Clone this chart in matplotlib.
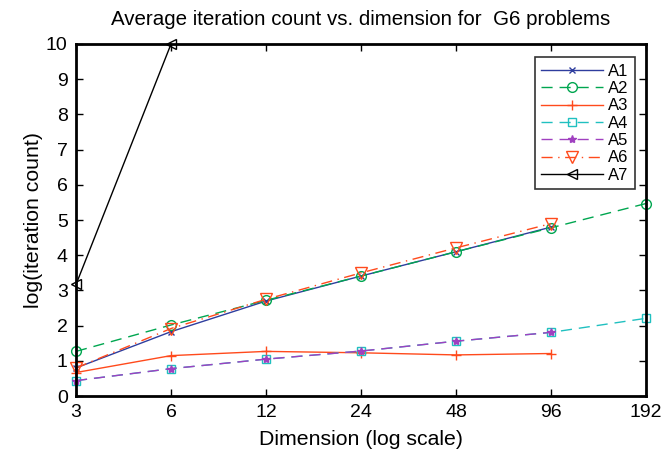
import matplotlib
matplotlib.use("Agg")
import matplotlib.pyplot as plt
from matplotlib.ticker import NullLocator, FixedLocator, FixedFormatter

plt.rcParams['font.family'] = ['Liberation Sans', 'DejaVu Sans']

dims = [3, 6, 12, 24, 48, 96, 192]
a1 = [0.80, 1.83, 2.70, 3.41, 4.10, 4.80]
a2 = [1.27, 2.02, 2.72, 3.41, 4.10, 4.78, 5.47]
a3 = [0.67, 1.15, 1.27, 1.23, 1.17, 1.21]
a4 = [0.44, 0.78, 1.05, 1.28, 1.56, 1.81, 2.21]
a5 = [0.44, 0.78, 1.05, 1.28, 1.56, 1.81]
a6 = [0.80, 1.92, 2.75, 3.50, 4.21, 4.90]
a7 = [3.17, 10.0]

fig = plt.figure(figsize=(6.64, 4.71), dpi=100)
ax = fig.add_axes([0.1145, 0.159, 0.8585, 0.7476])

common = dict(lw=1.0, clip_on=False)
ax.plot(dims[:len(a1)], a1, color='#2e3d9e', marker='x', ms=5, label='A1', **common)
ax.plot(dims[:len(a2)], a2, color='#00a650', marker='o', mfc='none', ms=7, ls=(0, (8, 5)), label='A2', **common)
ax.plot(dims[:len(a3)], a3, color='#ff4a1c', marker='+', ms=7, label='A3', **common)
ax.plot(dims[:len(a4)], a4, color='#20c0c0', marker='s', mfc='none', ms=6, ls=(0, (8, 5)), label='A4', **common)
ax.plot(dims[:len(a5)], a5, color='#a040c0', marker='*', ms=6, ls=(0, (8, 5)), label='A5', **common)
ax.plot(dims[:len(a6)], a6, color='#ff4a1c', marker='v', mfc='none', ms=8, ls=(0, (8, 4, 1, 4)), label='A6', **common)
ax.plot(dims[:len(a7)], a7, color='black', marker='<', mfc='none', ms=7, label='A7', **common)

ax.set_xscale('log', base=2)
ax.set_xlim(3, 192)
ax.set_ylim(0, 10)
ax.xaxis.set_major_locator(FixedLocator(dims))
ax.xaxis.set_major_formatter(FixedFormatter([str(d) for d in dims]))
ax.xaxis.set_minor_locator(NullLocator())
ax.set_yticks(range(0, 11))
ax.tick_params(direction='in', top=True, right=True, length=5, width=1, labelsize=14, pad=6)
for s in ax.spines.values():
    s.set_linewidth(2)
    s.set_color('black')

ax.set_xlabel('Dimension (log scale)', fontsize=15.3, labelpad=6)
ax.set_ylabel('log(iteration count)', fontsize=15.3, labelpad=2)
ax.set_title('Average iteration count vs. dimension for  G6 problems', fontsize=14.8, pad=14)

leg = ax.legend(loc='upper right', bbox_to_anchor=(0.981, 0.963), fontsize=12, frameon=True,
                fancybox=False, edgecolor='black', handlelength=3.7, labelspacing=0.14,
                borderaxespad=0.0, handletextpad=0.3)
leg.get_frame().set_linewidth(1.2)

fig.savefig('out.png', dpi=100)
